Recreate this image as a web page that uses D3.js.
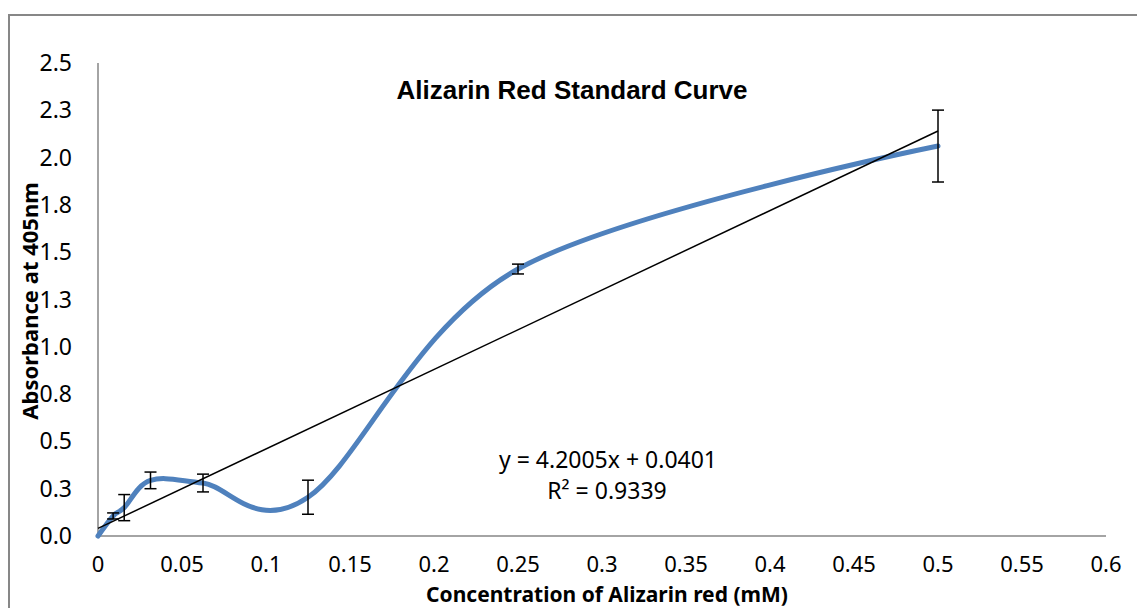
<!DOCTYPE html>
<html>
  <head>
    <title>Alizarin Red Standard Curve</title>
    <script src="https://d3js.org/d3.v7.min.js"></script>
    <style>
      body { margin: 0; background: white; }
      svg { display: block; }
      .tick-label { font-family: "Noto Sans", sans-serif; font-size: 23px; fill: #000; }
      .xt { font-size: 22px; }
      .axis-title { font-family: "Noto Sans", sans-serif; font-size: 22px; font-weight: bold; fill: #000; }
      .eq { font-family: "Noto Sans", sans-serif; font-size: 23px; fill: #000; }
    </style>
  </head>
  <body>
    <svg width="1137" height="608"></svg>
    <script>
      // concentrations (mM) and mean absorbance with error
      var concentrations = [0, 0.009, 0.0156, 0.03125, 0.0625, 0.125, 0.25, 0.5];
      var absorbance = [0, 0.106, 0.15, 0.294, 0.28, 0.205, 1.411, 2.061];
      var errors = [0, 0.016, 0.069, 0.044, 0.047, 0.09, 0.026, 0.19];

      // linear trendline
      var slope = 4.2005, intercept = 0.0401;
      var trendRange = [0, 0.5];

      var xTicks = [0, 0.05, 0.1, 0.15, 0.2, 0.25, 0.3, 0.35, 0.4, 0.45, 0.5, 0.55, 0.6];
      var xTickLabels = ["0", "0.05", "0.1", "0.15", "0.2", "0.25", "0.3", "0.35", "0.4", "0.45", "0.5", "0.55", "0.6"];
      var yTicks = [0, 0.25, 0.5, 0.75, 1.0, 1.25, 1.5, 1.75, 2.0, 2.25, 2.5];
      var yTickLabels = ["0.0", "0.3", "0.5", "0.8", "1.0", "1.3", "1.5", "1.8", "2.0", "2.3", "2.5"];

      var svg = d3.select("svg");

      // chart frame (only left and top edges visible)
      svg.append("path")
        .attr("d", "M9,608 V15 H1137")
        .style("fill", "none")
        .style("stroke", "#878787")
        .style("stroke-width", 2);

      var x = d3.scaleLinear().domain([0, 0.6]).range([98, 1106]);
      var y = d3.scaleLinear().domain([0, 2.5]).range([536, 63]);

      // axes lines
      svg.append("line")
        .attr("x1", x(0)).attr("x2", x(0))
        .attr("y1", y(2.5)).attr("y2", y(0))
        .style("stroke", "#868686").style("stroke-width", 1.5);
      svg.append("line")
        .attr("x1", x(0)).attr("x2", x(0.6))
        .attr("y1", y(0)).attr("y2", y(0))
        .style("stroke", "#868686").style("stroke-width", 1.5);

      // tick labels
      svg.selectAll("text.xt")
        .data(xTicks)
        .enter()
        .append("text")
        .attr("class", "tick-label xt")
        .attr("x", function (d) { return x(d); })
        .attr("y", 572)
        .style("text-anchor", "middle")
        .text(function (d, i) { return xTickLabels[i]; });

      svg.selectAll("text.yt")
        .data(yTicks)
        .enter()
        .append("text")
        .attr("class", "tick-label yt")
        .attr("x", 72)
        .attr("y", function (d) { return y(d) + 8; })
        .style("text-anchor", "end")
        .text(function (d, i) { return yTickLabels[i]; });

      // titles
      svg.append("text")
        .attr("x", 572)
        .attr("y", 99)
        .style("text-anchor", "middle")
        .style("font-family", "'Liberation Sans', Arial, sans-serif")
        .style("font-size", "26px")
        .style("font-weight", "bold")
        .text("Alizarin Red Standard Curve");

      svg.append("text")
        .attr("class", "axis-title")
        .attr("x", 607)
        .attr("y", 602)
        .style("text-anchor", "middle")
        .style("font-size", "21px")
        .text("Concentration of Alizarin red (mM)");

      svg.append("text")
        .attr("class", "axis-title")
        .attr("transform", "translate(38,301) rotate(-90)")
        .style("text-anchor", "middle")
        .text("Absorbance at 405nm");

      var data = concentrations.map(function (c, i) {
        return { x: c, y: absorbance[i], e: errors[i] };
      });

      // smoothed data line
      var line = d3.line()
        .x(function (d) { return x(d.x); })
        .y(function (d) { return y(d.y); })
        .curve(d3.curveCatmullRom.alpha(0));

      svg.append("path")
        .datum(data)
        .attr("d", line)
        .style("fill", "none")
        .style("stroke", "#4F81BD")
        .style("stroke-width", 5)
        .style("stroke-linecap", "round");

      // trendline
      svg.append("line")
        .attr("x1", x(trendRange[0]))
        .attr("y1", y(slope * trendRange[0] + intercept))
        .attr("x2", x(trendRange[1]))
        .attr("y2", y(slope * trendRange[1] + intercept))
        .style("stroke", "#000")
        .style("stroke-width", 1.5);

      // error bars
      var bars = svg.selectAll("g.err")
        .data(data.filter(function (d) { return d.e > 0; }))
        .enter()
        .append("g")
        .attr("class", "err");
      bars.append("line")
        .attr("x1", function (d) { return x(d.x); })
        .attr("x2", function (d) { return x(d.x); })
        .attr("y1", function (d) { return y(d.y + d.e); })
        .attr("y2", function (d) { return y(d.y - d.e); });
      bars.append("line")
        .attr("x1", function (d) { return x(d.x) - 6; })
        .attr("x2", function (d) { return x(d.x) + 6; })
        .attr("y1", function (d) { return y(d.y + d.e); })
        .attr("y2", function (d) { return y(d.y + d.e); });
      bars.append("line")
        .attr("x1", function (d) { return x(d.x) - 6; })
        .attr("x2", function (d) { return x(d.x) + 6; })
        .attr("y1", function (d) { return y(d.y - d.e); })
        .attr("y2", function (d) { return y(d.y - d.e); });
      bars.selectAll("line")
        .style("stroke", "#000")
        .style("stroke-width", 1.5);

      // trendline equation
      svg.append("text")
        .attr("class", "eq")
        .attr("x", 608)
        .attr("y", 468)
        .style("text-anchor", "middle")
        .text("y = " + slope.toFixed(4) + "x + " + intercept.toFixed(4));
      svg.append("text")
        .attr("class", "eq")
        .attr("x", 607)
        .attr("y", 499)
        .style("text-anchor", "middle")
        .text("R\u00B2 = 0.9339");
    </script>
  </body>
</html>
